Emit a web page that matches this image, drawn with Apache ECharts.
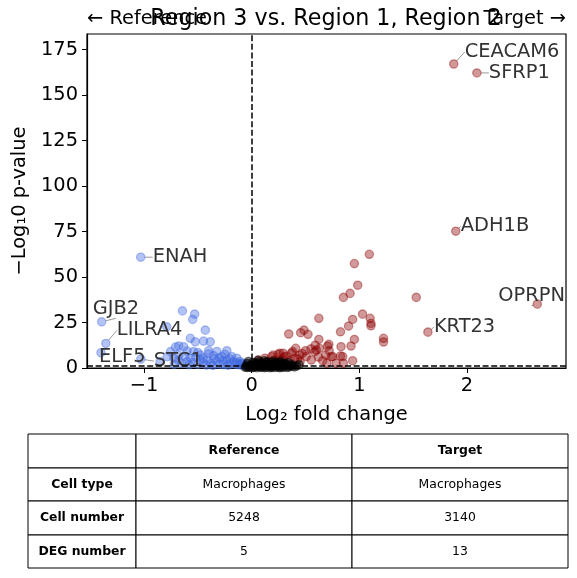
<!DOCTYPE html>
<html><head><meta charset="utf-8">
<script src="https://cdn.jsdelivr.net/npm/echarts@6/dist/echarts.min.js"></script>
<style>html,body{margin:0;padding:0;background:#fff}#c{width:577px;height:578px}</style>
</head><body><div id="c"></div>
<script>
// ---------- data ----------
const titleText = 'Region 3 vs. Region 1, Region 2';
const xTicks = [-1, 0, 1, 2];
const yTicks = [0, 25, 50, 75, 100, 125, 150, 175];
const xRange = [-1.53, 2.92];
const yRange = [0, 183.6];
const pThreshold = 1.3;
const fcThreshold = 0;

const labelGenes   = ['CEACAM6','SFRP1','ADH1B','OPRPN','KRT23','ENAH','GJB2','LILRA4','ELF5','STC1'];
const labelLogFC   = [1.877, 2.092, 1.896, 2.653, 1.637, -1.031, -1.394, -1.355, -1.40, -1.03];
const labelNegLogP = [167.1, 162.2, 75.2, 35.1, 19.7, 60.9, 25.4, 13.5, 8.4, 4.9];

const upPoints = [[1.093,62.5],[0.954,57.4],[0.985,45.5],[0.914,41.0],[0.852,38.8],[1.529,38.8],[1.03,29.6],
  [0.624,27.3],[0.938,26.7],[1.10,27.3],[1.108,24.5],[1.108,23.2],[0.90,23.0],[0.825,19.9],[0.344,18.7],
  [0.455,19.4],[0.486,20.8],[0.523,18.5],[0.624,15.7],[0.954,15.7],[1.225,16.3],[1.225,14.3],[0.923,12.1],
  [0.717,13.0],[0.705,12.0],[0.409,10.8],[0.60,9.9],[0.63,10.8],[0.686,7.1],[0.739,6.2],[0.825,6.6],
  [0.938,4.0],[0.698,2.6],[0.785,2.6],[0.852,2.6],[0.261,8.1],[0.20,7.1],[0.585,9.0],[0.83,11.7],
  [0.753,6.3],[0.846,6.3],[0.292,8.1],[0.246,7.5],[0.369,8.1],[0.446,7.1],[0.508,6.3],[0.185,6.3],
  [0.123,5.4],[0.061,4.4],[0.40,5.4],[0.554,4.4],[0.215,4.4],[0.32,6.5],[0.35,4.0],[0.28,5.0],[0.15,3.5],
  [0.10,3.0],[0.25,3.0],[0.45,3.5],[0.50,9.5],[0.47,8.0],[0.38,9.0],[0.30,6.0],[0.59,12.5],[0.55,10.5],
  [0.43,5.0],[0.62,6.0],[0.66,4.0],[0.72,9.5]];

const downPoints = [[-0.643,31.4],[-0.53,29.6],[-0.548,26.7],[-0.79,22.7],[-0.431,20.8],[-0.57,16.3],
  [-0.524,14.4],[-0.447,14.8],[-0.385,14.4],[-0.678,12.1],[-0.632,11.7],[-0.708,11.5],[-0.40,9.5],
  [-0.323,9.1],[-0.231,9.5],[-0.754,9.0],[-0.60,9.3],[-0.54,9.0],[-0.678,7.1],[-0.477,7.1],[-0.355,6.8],
  [-0.277,6.3],[-0.185,6.3],[-0.139,5.4],[-0.57,5.4],[-0.415,4.4],[-0.231,4.4],[-0.108,3.5],[-0.078,2.6],
  [-0.724,5.4],[-0.785,6.2],[-0.85,3.5],[-0.65,2.5],[-0.60,3.5],[-0.50,2.0],[-0.45,3.0],[-0.38,2.5],
  [-0.33,3.8],[-0.30,2.0],[-0.27,4.0],[-0.20,2.5],[-0.17,3.5],[-0.15,2.0],[-0.12,1.8],[-0.09,1.5],
  [-0.35,5.0],[-0.30,5.5],[-0.25,7.5],[-0.45,5.5],[-0.52,6.0],[-0.62,6.5],[-0.55,3.0],[-0.40,7.8],
  [-0.20,5.0],[-0.10,2.5],[-0.68,4.2],[-0.58,1.8],[-0.48,4.6],[-0.42,1.6],[-0.36,1.4],[-0.26,1.8],
  [-0.22,1.5],[-0.14,3.0],[-0.06,1.6],[-0.72,2.0],[-0.50,8.5]];

const nsPoints = [[-0.05,1.0],[-0.04,2.5],[-0.02,0.5],[0.0,1.8],[0.01,3.0],[0.02,0.8],[0.04,2.2],[0.05,1.2],
  [0.07,3.4],[0.08,0.6],[0.10,2.0],[0.11,1.0],[0.13,2.8],[0.14,0.4],[0.16,1.6],[0.18,3.2],[0.19,0.9],
  [0.21,2.4],[0.23,1.2],[0.25,0.5],[0.26,2.9],[0.28,1.8],[0.30,0.8],[0.31,2.5],[0.33,1.4],[0.35,0.6],
  [0.37,2.0],[0.38,1.0],[-0.03,3.6],[0.06,4.2],[0.12,4.0],[0.20,3.8],[0.27,3.6],[0.34,3.0],[0.09,0.3],
  [0.17,0.2],[0.22,0.3],[0.29,0.3],[0.0,0.2],[-0.06,0.4],[0.44,1.8],
  [-0.01,1.2],[0.03,1.5],[0.06,0.9],[0.09,1.6],[0.12,1.3],[0.15,2.2],[0.17,1.1],[0.2,1.5],[0.24,2.0],
  [0.27,1.0],[0.32,1.9],[0.36,1.3],[0.03,2.8],[0.08,2.6],[0.14,3.3],[0.23,3.0],[0.29,2.4],[0.4,0.6],
  [0.42,1.2],[-0.04,0.3],[0.02,0.3],[0.05,0.2],[0.12,0.2],[0.19,0.3],[0.26,0.2],[0.33,0.3]];

const tableColumns = ['', 'Reference', 'Target'];
const tableRowLabels = ['Cell type', 'Cell number', 'DEG number'];
const referenceValues = ['Macrophages', '5248', '5'];
const targetValues = ['Macrophages', '3140', '13'];

// ---------- layout / style ----------
const FONT = 'DejaVu Sans';
const BLUE = 'rgba(65,105,225,0.5)';
const RED = 'rgba(139,0,0,0.5)';
const BLACK = 'rgba(0,0,0,0.6)';
const labelOffsets = [[11,-12],[12,0],[5,-5],[-39,-8],[6,-5],[12,0],[-9,-13],[11,-13],[-2,4],[13,2]];
const colX = [28, 136, 352, 568];
const rowY = [434, 468, 501, 535, 568];

function pointStyle(c){ return {color:c, borderColor:c, borderWidth:1.3}; }

const labeledData = labelGenes.map((g,i)=>({
  name:g, value:[labelLogFC[i], labelNegLogP[i]],
  itemStyle: pointStyle(labelLogFC[i] < 0 ? BLUE : RED)
}));

// table graphics
const tableGraphics = [];
for (let r = 0; r < 4; r++) {
  for (let c = 0; c < 3; c++) {
    const x0 = colX[c], x1 = colX[c+1], y0 = rowY[r], y1 = rowY[r+1];
    tableGraphics.push({type:'rect', shape:{x:x0, y:y0, width:x1-x0, height:y1-y0},
      style:{fill:'#fff', stroke:'#000', lineWidth:1}, z:1});
    let txt, bold = false;
    if (r === 0) { txt = tableColumns[c]; bold = true; }
    else if (c === 0) { txt = tableRowLabels[r-1]; bold = true; }
    else if (c === 1) { txt = referenceValues[r-1]; }
    else { txt = targetValues[r-1]; }
    if (txt) tableGraphics.push({type:'text', x:(x0+x1)/2, y:(y0+y1)/2, z:2,
      style:{text:txt, fill:'#000', font:(bold?'bold ':'')+'12.4px "'+FONT+'"', align:'center', verticalAlign:'middle'}});
  }
}

const chart = echarts.init(document.getElementById('c'), null, {renderer:'canvas'});
chart.setOption({
  animation:false,
  backgroundColor:'#fff',
  grid:{left:87, right:11, top:34, bottom:210, show:true, borderColor:'#000', borderWidth:1.2, backgroundColor:'transparent'},
  xAxis:{type:'value', min:xRange[0], max:xRange[1],
    axisLine:{onZero:false, lineStyle:{color:'#000', width:1.2}},
    axisTick:{show:true, length:5, customValues:xTicks, lineStyle:{color:'#000', width:1}},
    axisLabel:{customValues:xTicks, fontSize:19.4, color:'#000', fontFamily:FONT, margin:8,
      formatter:v=>String(v).replace('-','\u2212')},
    splitLine:{show:false},
    name:'Log\u2082 fold change', nameLocation:'middle', nameGap:37,
    nameTextStyle:{fontSize:19.4, color:'#000', fontFamily:FONT}},
  yAxis:{type:'value', min:yRange[0], max:yRange[1],
    axisLine:{onZero:false, lineStyle:{color:'#000', width:1.2}},
    axisTick:{show:true, length:5, customValues:yTicks, lineStyle:{color:'#000', width:1}},
    axisLabel:{customValues:yTicks, fontSize:19.4, color:'#000', fontFamily:FONT, margin:9},
    splitLine:{show:false},
    name:'\u2212Log\u20810 p-value', nameLocation:'middle', nameGap:58, nameRotate:90,
    nameTextStyle:{fontSize:19.4, color:'#000', fontFamily:FONT}},
  series:[
    {type:'scatter', data:downPoints, symbolSize:8.3, itemStyle:pointStyle(BLUE), silent:true, z:2},
    {type:'scatter', data:upPoints, symbolSize:8.3, itemStyle:pointStyle(RED), silent:true, z:2},
    {type:'scatter', data:nsPoints, symbolSize:8.3, itemStyle:pointStyle(BLACK), silent:true, z:3,
      markLine:{silent:true, symbol:'none', animation:false, label:{show:false},
        lineStyle:{type:[6,2.6], color:'#000', width:1.5},
        data:[{xAxis:fcThreshold},{yAxis:pThreshold}], z:5}},
    {type:'scatter', data:labeledData, symbolSize:8.3, silent:true, z:4,
      label:{show:true, formatter:p=>p.name, position:'right', align:'left', verticalAlign:'middle',
        fontSize:19.4, fontFamily:FONT, color:'#333333', opacity:1},
      labelLine:{show:true, lineStyle:{color:'#808080', width:0.8}},
      labelLayout:function(p){
        const o = labelOffsets[p.dataIndex];
        const cx = p.rect.x + p.rect.width/2, cy = p.rect.y + p.rect.height/2;
        return {x:cx+o[0], y:cy+o[1], align:'left', verticalAlign:'middle'};
      }}
  ],
  graphic:[
    {type:'text', x:326, y:19, z:10, style:{text:titleText, font:'22.2px "'+FONT+'"', fill:'#000', align:'center', verticalAlign:'middle'}},
    {type:'text', x:87, y:19, z:10, style:{text:'\u2190 Reference', font:'19.4px "'+FONT+'"', fill:'#000', align:'left', verticalAlign:'middle'}},
    {type:'text', x:566, y:19, z:10, style:{text:'Target \u2192', font:'19.4px "'+FONT+'"', fill:'#000', align:'right', verticalAlign:'middle'}}
  ].concat(tableGraphics)
});
</script></body></html>
